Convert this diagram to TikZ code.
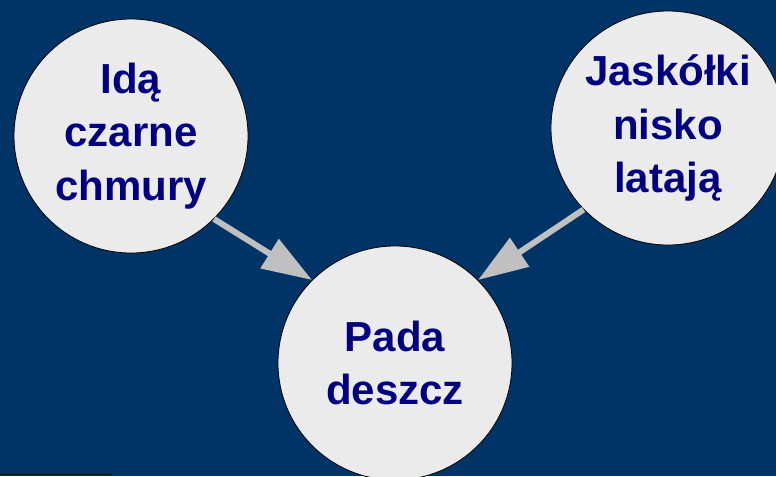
\documentclass[tikz,border=0pt]{standalone}
\usepackage{fontspec}
\setmainfont{Liberation Sans}
\usetikzlibrary{arrows.meta}
\definecolor{tlo}{RGB}{0,51,102}
\definecolor{kamien}{RGB}{235,235,235}
\definecolor{granat}{RGB}{0,0,128}
\definecolor{strzalka}{RGB}{192,192,192}

\begin{document}
\begin{tikzpicture}[x=0.75pt, y=-0.75pt,
            zdarzenie/.style={circle, draw=black, line width=0.6pt, fill=kamien, minimum size=175.5pt, inner sep=0pt, align=center, text=granat, font=\fontsize{31.5}{40}\selectfont\bfseries},
            wplyw/.style={draw=strzalka, line width=4.5pt, -{Triangle[length=37.5pt, width=25pt]}}]

            \useasboundingbox (0,0) rectangle (776,476);
            \fill[tlo] (0,0) rectangle (776,476);
            \clip (0,0) rectangle (776,476);

            \node[zdarzenie] (chmury) at (131,136) {Idą\\czarne\\chmury};
            \node[zdarzenie] (jaskolki) at (668,128) {Jaskółki\\nisko\\latają};
            \node[zdarzenie] (deszcz) at (395,363) {Pada\\deszcz};

            \draw[wplyw] (chmury.-45) -- (deszcz.135);
            \draw[wplyw] (jaskolki.224) -- (deszcz.45);

            % ciemna kreska u dolu
            \draw[black!70!tlo, line width=1pt] (0,474.5) -- (112,474.5);
        \end{tikzpicture}
\end{document}
